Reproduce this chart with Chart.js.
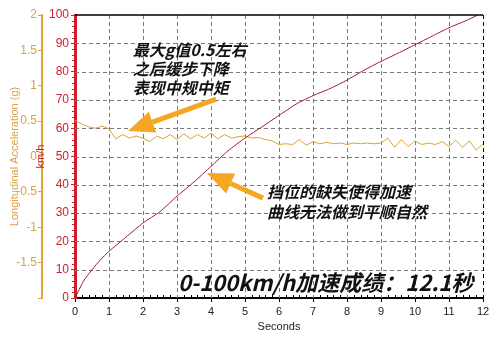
<!DOCTYPE html>
<html>
<head>
<meta charset="utf-8">
<script src="https://cdn.jsdelivr.net/npm/chart.js@4.4.0/dist/chart.umd.min.js"></script>
<style>
  html, body { margin: 0; padding: 0; background: #ffffff; }
  #wrap { width: 500px; height: 340px; }
</style>
</head>
<body>
<div id="wrap"><canvas id="grafico"></canvas></div>
<script>
// --- DATOS ---
const tiemposVel = [0, 0.25, 0.5, 0.75, 1, 1.5, 2, 2.5, 3, 3.5, 4, 4.5, 5, 5.5, 6, 6.5, 7, 7.5, 8, 8.5, 9, 9.5, 10, 10.5, 11, 11.5, 11.85];
const velocidad = [0, 6, 10, 13.5, 16.5, 21.5, 26.5, 30.5, 36, 41, 46.5, 52, 56.5, 60.5, 64.5, 68.5, 71.5, 74, 77, 80.5, 83.6, 86.5, 89.5, 92.5, 95.5, 98, 100];

const tiemposAcel = [0, 0.2, 0.4, 0.6, 0.8, 1.0, 1.2, 1.4, 1.6, 1.8, 2.0, 2.2, 2.4, 2.6, 2.8, 3.0, 3.2, 3.4, 3.6, 3.8,
  4.0, 4.2, 4.4, 4.6, 4.8, 5.0, 5.2, 5.4, 5.6, 5.8, 6.0, 6.2, 6.4, 6.6, 6.8, 7.0, 7.2, 7.4, 7.6, 7.8,
  8.0, 8.2, 8.4, 8.6, 8.8, 9.0, 9.2, 9.4, 9.6, 9.8, 10.0, 10.2, 10.4, 10.6, 10.8, 11.0, 11.2, 11.4, 11.6, 11.8, 12.0];
const aceleracion = [0.51, 0.46, 0.42, 0.40, 0.43, 0.39, 0.25, 0.31, 0.26, 0.29, 0.26, 0.21, 0.29, 0.25, 0.31, 0.24, 0.32, 0.25, 0.31, 0.26,
  0.33, 0.25, 0.31, 0.26, 0.28, 0.29, 0.26, 0.27, 0.24, 0.22, 0.17, 0.18, 0.17, 0.24, 0.16, 0.21, 0.18, 0.20, 0.18, 0.19,
  0.17, 0.19, 0.18, 0.19, 0.18, 0.19, 0.26, 0.13, 0.24, 0.14, 0.22, 0.17, 0.19, 0.17, 0.21, 0.14, 0.23, 0.13, 0.22, 0.09, 0.18];

const ticksSegundos = [0, 1, 2, 3, 4, 5, 6, 7, 8, 9, 10, 11, 12];

// --- ANOTACIONES (en unidades de datos: segundos / km/h) ---
const notaArriba = ['最大g值0.5左右', '之后缓步下降', '表现中规中矩'];
const notaMedio = ['挡位的缺失使得加速', '曲线无法做到平顺自然'];
const notaAbajo = '0-100km/h加速成绩：12.1秒';

const posNotaArriba = { t: 1.7, v: [87.6, 80.9, 74.2] };
const posNotaMedio = { t: 5.65, v: [37.5, 30.4] };
const posNotaAbajo = { t: 3.03, v: 5.3 };
const flechas = [
  { desde: [4.15, 70.3], hasta: [1.56, 59] },
  { desde: [5.53, 35.3], hasta: [3.88, 44.2] }
];

// --- COLORES ---
const ROJO = '#d0202e';
const NARANJA = '#d9a24a';
const FLECHA = '#f5a623';
const GRIS = '#7a7a7a';

function dibujarFlecha(ctx, x1, y1, x2, y2) {
  const ang = Math.atan2(y2 - y1, x2 - x1);
  const largoCabeza = 26, anchoCabeza = 11;
  const bx = x2 - largoCabeza * Math.cos(ang);
  const by = y2 - largoCabeza * Math.sin(ang);
  ctx.save();
  ctx.strokeStyle = FLECHA;
  ctx.fillStyle = FLECHA;
  ctx.lineWidth = 5;
  ctx.beginPath();
  ctx.moveTo(x1, y1);
  ctx.lineTo(bx, by);
  ctx.stroke();
  ctx.beginPath();
  ctx.moveTo(x2, y2);
  ctx.lineTo(bx + anchoCabeza * Math.sin(ang), by - anchoCabeza * Math.cos(ang));
  ctx.lineTo(bx - anchoCabeza * Math.sin(ang), by + anchoCabeza * Math.cos(ang));
  ctx.closePath();
  ctx.fill();
  ctx.restore();
}

// rejilla punteada, dibujada antes de las series
const pluginRejilla = {
  id: 'rejilla',
  beforeDatasetsDraw(chart) {
    const { ctx, chartArea } = chart;
    const sx = chart.scales.x, sv = chart.scales.yVel;
    ctx.save();
    ctx.lineWidth = 1;
    ctx.setLineDash([4, 3]);
    sx.ticks.forEach(t => {
      if (t.value === 0) return;
      const x = Math.round(sx.getPixelForValue(t.value)) + 0.5;
      ctx.strokeStyle = t.value === 12 ? '#000' : GRIS;
      ctx.beginPath();
      ctx.moveTo(x, chartArea.top);
      ctx.lineTo(x, chartArea.bottom);
      ctx.stroke();
    });
    ctx.strokeStyle = GRIS;
    sv.ticks.forEach(t => {
      if (t.value === 0 || t.value === 100) return;
      const y = Math.round(sv.getPixelForValue(t.value)) + 0.5;
      ctx.beginPath();
      ctx.moveTo(chartArea.left, y);
      ctx.lineTo(chartArea.right, y);
      ctx.stroke();
    });
    ctx.restore();
  }
};

const pluginExtras = {
  id: 'extras',
  afterDraw(chart) {
    const { ctx, chartArea } = chart;
    const sx = chart.scales.x, sv = chart.scales.yVel;

    ctx.save();
    // borde superior
    ctx.strokeStyle = '#000';
    ctx.lineWidth = 1.5;
    ctx.beginPath();
    ctx.moveTo(chartArea.left, chartArea.top);
    ctx.lineTo(chartArea.right, chartArea.top);
    ctx.stroke();

    // marcas menores eje x
    ctx.lineWidth = 1;
    for (let i = 1; i < 60; i++) {
      if (i % 5 === 0) continue;
      const x = Math.round(sx.getPixelForValue(i * 0.2)) + 0.5;
      ctx.beginPath();
      ctx.moveTo(x, chartArea.bottom);
      ctx.lineTo(x, chartArea.bottom - 3);
      ctx.stroke();
    }
    // marcas menores eje velocidad
    ctx.strokeStyle = ROJO;
    for (let v = 2; v < 100; v += 2) {
      if (v % 10 === 0) continue;
      const y = Math.round(sv.getPixelForValue(v)) + 0.5;
      ctx.beginPath();
      ctx.moveTo(sv.right, y);
      ctx.lineTo(sv.right - 3, y);
      ctx.stroke();
    }

    // titulo km/h
    ctx.save();
    ctx.translate(sv.left - 1, (chartArea.top + chartArea.bottom) / 2);
    ctx.rotate(-Math.PI / 2);
    ctx.fillStyle = ROJO;
    ctx.font = '11px "Liberation Sans", Arial, sans-serif';
    ctx.textAlign = 'center';
    ctx.textBaseline = 'middle';
    ctx.fillText('km/h', 0, 0);
    ctx.restore();

    // flechas
    flechas.forEach(f => {
      dibujarFlecha(ctx,
        sx.getPixelForValue(f.desde[0]), sv.getPixelForValue(f.desde[1]),
        sx.getPixelForValue(f.hasta[0]), sv.getPixelForValue(f.hasta[1]));
    });

    // textos
    ctx.fillStyle = '#111';
    ctx.textAlign = 'left';
    ctx.textBaseline = 'middle';
    ctx.font = 'italic bold 16px "Noto Sans CJK SC", sans-serif';
    notaArriba.forEach((linea, i) => {
      ctx.fillText(linea, sx.getPixelForValue(posNotaArriba.t), sv.getPixelForValue(posNotaArriba.v[i]));
    });
    notaMedio.forEach((linea, i) => {
      ctx.fillText(linea, sx.getPixelForValue(posNotaMedio.t), sv.getPixelForValue(posNotaMedio.v[i]));
    });
    ctx.font = 'italic bold 22px "Noto Sans CJK SC", sans-serif';
    ctx.fillText(notaAbajo, sx.getPixelForValue(posNotaAbajo.t), sv.getPixelForValue(posNotaAbajo.v));
    ctx.restore();
  }
};

const ctx = document.getElementById('grafico').getContext('2d');
new Chart(ctx, {
  type: 'line',
  data: {
    datasets: [
      {
        label: 'km/h',
        data: tiemposVel.map((t, i) => ({ x: t, y: velocidad[i] })),
        yAxisID: 'yVel',
        borderColor: '#9b1b30',
        borderWidth: 1,
        pointRadius: 0,
        tension: 0.2
      },
      {
        label: 'g',
        data: tiemposAcel.map((t, i) => ({ x: t, y: aceleracion[i] })),
        yAxisID: 'yAcel',
        borderColor: '#dba236',
        borderWidth: 1,
        pointRadius: 0,
        tension: 0
      }
    ]
  },
  options: {
    responsive: true,
    maintainAspectRatio: false,
    animation: false,
    layout: { padding: { top: 15, right: 17, left: 0, bottom: 0 } },
    plugins: { legend: { display: false }, tooltip: { enabled: false } },
    scales: {
      x: {
        type: 'linear',
        min: 0, max: 12,
        afterBuildTicks: s => { s.ticks = ticksSegundos.map(v => ({ value: v })); },
        afterFit: s => { s.height = 42; },
        ticks: { color: '#222', font: { size: 11, family: '"Liberation Sans", Arial' }, padding: 3, maxRotation: 0 },
        grid: { drawOnChartArea: false, tickColor: '#000', tickLength: 4 },
        border: { color: '#000', width: 2 },
        title: { display: true, text: 'Seconds', color: '#222', font: { size: 11, family: '"Liberation Sans", Arial' }, padding: { top: 0, bottom: 6 } }
      },
      yVel: {
        position: 'left',
        weight: 0,
        min: 0, max: 100,
        afterFit: s => { s.width = 33; },
        ticks: { stepSize: 10, color: ROJO, font: { size: 12, family: '"Liberation Sans", Arial' }, padding: 2 },
        grid: { drawOnChartArea: false, tickColor: ROJO, tickLength: 4 },
        border: { color: ROJO, width: 3 }
      },
      yAcel: {
        position: 'left',
        weight: 1,
        min: -2, max: 2,
        afterFit: s => { s.width = 42; },
        ticks: {
          stepSize: 0.5, color: NARANJA, padding: 1,
          font: { size: 12, family: '"Liberation Sans", Arial' },
          callback: v => (v === -2 ? '' : String(v))
        },
        grid: { drawOnChartArea: false, tickColor: NARANJA, tickLength: 4 },
        border: { color: '#e0a43a', width: 2 },
        title: { display: true, text: 'Longitudinal Acceleration (g)', color: NARANJA, font: { size: 11, family: '"Liberation Sans", Arial' }, padding: { top: 8, bottom: 0 } }
      }
    }
  },
  plugins: [pluginRejilla, pluginExtras]
});
</script>
</body>
</html>
